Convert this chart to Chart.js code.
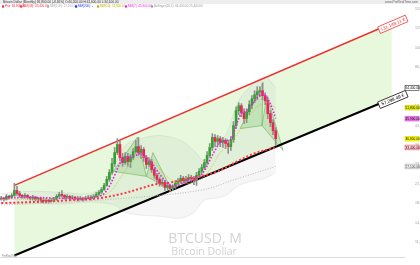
<!DOCTYPE html>
<html>
<head>
<meta charset="utf-8">
<script src="https://cdn.jsdelivr.net/npm/chart.js@4.4.1/dist/chart.umd.min.js"></script>
<style>
  html, body { margin: 0; padding: 0; background: #fff; }
</style>
</head>
<body>
<canvas id="btc" width="420" height="265"></canvas>
<script>
// monthly candles, month index 0 = Jan 2014
const firstMonth = -6;
const firstOpen = 18900;

const closes = [
  19100, 18900, 19500, 19300, 19700, 20800,
  20100, 19700, 19500, 19700, 19300, 19100, 19300, 18900, 19100, 18700,
  18500, 18700, 18500, 18700, 18900, 19500, 19900, 19700, 19300, 19500,
  19100, 19300, 19100, 18900, 19100, 18900, 19100, 19300, 19100, 19500,
  19900, 20400, 21000, 22000, 23500, 25400, 28000, 31600, 34500, 29900,
  28300, 30200, 28600, 29900, 31900, 33700, 31600, 32700, 29900, 27700,
  28600, 26200, 24600, 23500, 22500, 22700, 21500, 22000, 21300, 21800,
  22500, 23000, 23800, 23200, 23500, 24000, 23800, 23200, 24600, 25700,
  26800, 28300, 30600, 33400, 37300, 35700, 36800, 35300, 36100, 34900,
  33700, 36400, 42500, 50100, 52900, 49000, 45900, 49500, 53500, 57100,
  59700, 61700, 62400, 59100, 55900, 48500, 43900, 40200, 36800
];
const highs = [
  19500, 19300, 19900, 19700, 20100, 22500,
  21800, 20600, 19900, 20100, 19900, 19500, 19700, 19500, 19300, 19300,
  19100, 19100, 18900, 19100, 19300, 19900, 20400, 20800, 19900, 19900,
  19700, 19700, 19500, 19500, 19500, 19300, 19500, 19700, 19700, 19900,
  20400, 20800, 21500, 22500, 24300, 26200, 29600, 33400, 36800, 35700,
  31300, 31600, 31300, 30900, 33000, 36100, 37300, 34100, 33400, 30600,
  29900, 29300, 26800, 25100, 24000, 23500, 23200, 22500, 22200, 22200,
  23200, 23800, 24600, 24300, 24300, 24800, 24600, 24300, 25400, 26500,
  27700, 29300, 31900, 34900, 38900, 38500, 38100, 37700, 37300, 36800,
  36100, 37700, 44400, 52300, 54700, 54100, 51200, 51200, 55900, 59100,
  62400, 65200, 65200, 68100, 61000, 57800, 50100, 45400, 41600
];
const lows = [
  18700, 18500, 18700, 18900, 19100, 19500,
  19700, 19300, 19100, 19100, 18900, 18700, 18700, 18500, 18500, 18300,
  18100, 18100, 18100, 18300, 18500, 18700, 19300, 19300, 18900, 19100,
  18700, 18900, 18700, 18500, 18700, 18500, 18700, 18900, 18700, 18900,
  19300, 19700, 20100, 20800, 21800, 23000, 24800, 27100, 30900, 28900,
  27100, 27700, 27100, 26800, 29300, 31300, 30600, 29600, 28600, 26500,
  27100, 25400, 23800, 22500, 21800, 21800, 20800, 21000, 20600, 20800,
  21300, 22000, 22500, 22500, 22700, 23000, 23000, 22200, 22000, 24300,
  25100, 26200, 27700, 29900, 32300, 33700, 34100, 33700, 33400, 33000,
  31300, 32300, 35300, 41100, 47900, 46900, 43400, 43900, 47900, 51200,
  54700, 56500, 58400, 56500, 53500, 45900, 42000, 38500, 34100
];

const yearLabels = ['2014', '2015', '2016', '2017', '2018', '2019', '2020',
  '2021', '2022', '2023', '2024', '2025', '2026'];
const yTicks = [153300, 123800, 100000, 80750, 65200, 52630, 42520,
  34320, 27720, 22380, 18070, 14590, 11780];

// indicator lines: [month, value]
const maFast = [[-6, 19100], [5, 19300], [16, 19100], [27, 19100], [31, 19500], [33, 20100],
  [35, 21800], [37, 24600], [39, 28000], [41, 29900], [43, 30200], [45, 30600], [47, 31300],
  [49, 29900], [51, 28300], [53, 25900], [55, 24000], [57, 22500], [59, 21800], [61, 22000],
  [63, 22700], [65, 23200], [67, 23500], [69, 24000], [71, 25900], [73, 28900], [75, 32300],
  [77, 35300], [79, 36100], [81, 36400], [83, 42500], [85, 48500], [87, 50100], [89, 53500],
  [91, 57800], [93, 60300], [95, 57100], [97, 50100], [98, 45900]];
const maMid = [[-6, 18900], [10, 18900], [20, 19100], [30, 19300], [35, 20400], [38, 22700],
  [41, 25900], [44, 28900], [47, 30200], [50, 29600], [53, 27400], [56, 24800], [59, 23200],
  [62, 22500], [65, 22500], [68, 23200], [71, 24300], [74, 27400], [77, 31600], [80, 34100],
  [83, 38100], [86, 43900], [89, 49000], [92, 53500], [95, 54700], [98, 51800]];
const maSlow = [[-6, 18100], [10, 18400], [20, 18700], [31, 19100], [40, 20100], [47, 21300],
  [52, 22200], [58, 22700], [66, 23800], [75, 25400], [84, 28900], [90, 31300], [95, 32700],
  [98, 33400]];
const maLong = [[-6, 17700], [31, 18700], [69, 20800], [84, 23800], [98, 27100]];
const bollUpper = [[-6, 20100], [5, 20600], [16, 20400], [27, 20100], [33, 21800], [37, 27400],
  [41, 34100], [47, 36800], [54, 38100], [62, 36100], [67, 32300], [71, 28900], [75, 35300],
  [79, 38100], [84, 55900], [90, 68100], [94, 72700], [98, 64400]];
const bollLower = [[-6, 18100], [5, 18100], [16, 17900], [27, 18300], [33, 18100], [37, 17700],
  [41, 16380], [47, 15850], [54, 15680], [62, 15330], [67, 16380], [71, 18700], [75, 19100],
  [79, 19700], [84, 22000], [90, 23200], [94, 23800], [98, 25400]];

// trend channel
const channelTop = [[-1, 22000], [142, 131148.11]];
const channelBottom = [[-1, 10170], [142, 57298.49]];

// harmonic patterns X, A, B, C, D
const pattern1 = [[36.5, 25700], [45.5, 37300], [49, 24300], [51.5, 31600], [58.5, 21000]];
const pattern2 = [[84.5, 41100], [93.2, 68100], [92.8, 42500], [94.7, 59100], [100.8, 32300]];

const months = closes.map((_, i) => firstMonth + i);
const opens = closes.map((c, i) => (i === 0 ? firstOpen : closes[i - 1]));
const bodyColors = closes.map((c, i) => (c >= opens[i] ? '#2fa52f' : '#ec2452'));
const toXY = pts => pts.map(([x, y]) => ({ x, y }));
const last = arr => arr[arr.length - 1][1];
const fmt = v => v.toLocaleString('en-US', { minimumFractionDigits: 2, maximumFractionDigits: 2 });

const FONT = '"Liberation Sans", Arial, sans-serif';

function drawPattern(ctx, xs, ys, pts) {
  const p = pts.map(([m, v]) => [xs.getPixelForValue(m), ys.getPixelForValue(v)]);
  const tri = (a, b, c) => {
    ctx.beginPath();
    ctx.moveTo(a[0], a[1]);
    ctx.lineTo(b[0], b[1]);
    ctx.lineTo(c[0], c[1]);
    ctx.closePath();
    ctx.fill();
    ctx.stroke();
  };
  ctx.fillStyle = 'rgba(120,195,100,0.28)';
  ctx.strokeStyle = 'rgba(90,170,70,0.75)';
  ctx.lineWidth = 0.7;
  tri(p[0], p[1], p[2]);
  tri(p[2], p[3], p[4]);
}

function drawLineLabel(ctx, xs, ys, line, color, text) {
  const x0 = xs.getPixelForValue(line[0][0]), y0 = ys.getPixelForValue(line[0][1]);
  const x1 = xs.getPixelForValue(line[1][0]), y1 = ys.getPixelForValue(line[1][1]);
  const ang = Math.atan2(y1 - y0, x1 - x0);
  ctx.save();
  ctx.translate(x1 + 1, y1 + 1);
  ctx.rotate(ang);
  ctx.fillStyle = '#fff';
  ctx.strokeStyle = color;
  ctx.lineWidth = 0.7;
  ctx.fillRect(-15, -3.5, 30, 7);
  ctx.strokeRect(-15, -3.5, 30, 7);
  ctx.fillStyle = color;
  ctx.font = '4.6px ' + FONT;
  ctx.textAlign = 'center';
  ctx.textBaseline = 'middle';
  ctx.fillText(text, 0, 0.3);
  ctx.restore();
}

const overlay = {
  id: 'overlay',
  beforeDraw(chart) {
    const ctx = chart.ctx;
    ctx.save();
    ctx.fillStyle = '#d2d2d2';
    ctx.textAlign = 'center';
    ctx.font = '14px "Open Sans", sans-serif';
    ctx.fillText('BTCUSD, M', 205, 243);
    ctx.font = '10.5px "Open Sans", sans-serif';
    ctx.fillText('Bitcoin Dollar', 204, 255);
    ctx.restore();
  },
  beforeDatasetsDraw(chart) {
    const { ctx, chartArea: a } = chart;
    const xs = chart.scales.x, ys = chart.scales.y;
    ctx.save();
    ctx.beginPath();
    ctx.rect(a.left, a.top, a.right - a.left, a.bottom - a.top);
    ctx.clip();
    drawPattern(ctx, xs, ys, pattern1);
    drawPattern(ctx, xs, ys, pattern2);
    ctx.restore();
  },
  afterDraw(chart) {
    const ctx = chart.ctx;
    const xs = chart.scales.x, ys = chart.scales.y;
    const close = closes[closes.length - 1];
    const open = opens[opens.length - 1];

    drawLineLabel(ctx, xs, ys, channelTop, '#e83030', fmt(channelTop[1][1]) + ' €');
    drawLineLabel(ctx, xs, ys, channelBottom, '#000', fmt(channelBottom[1][1]) + ' €');

    // header
    ctx.save();
    ctx.fillStyle = '#ededed';
    ctx.fillRect(0, 0, 420, 4);
    ctx.textBaseline = 'middle';
    ctx.font = '3.2px ' + FONT;
    ctx.fillStyle = '#333';
    const pct = ((close - open) / open * 100).toFixed(2);
    ctx.fillText('Bitcoin Dollar (Monthly) ' + fmt(close) + ' (' + pct + '%) O:' + fmt(open) +
      ' H:' + fmt(highs[highs.length - 1]) + ' L:' + fmt(lows[lows.length - 1]), 3, 2.2);
    ctx.textAlign = 'right';
    ctx.fillStyle = '#666';
    ctx.fillText('www.ProRealTime.com', 418, 2.2);
    ctx.textAlign = 'left';

    const legend = [
      { x: 2, color: '#ec2452', text: 'Prix: ' + fmt(close) },
      { x: 20, color: '#ff3344', text: 'MM(48): ' + fmt(last(maSlow)) },
      { x: 47, color: '#aaaaaa', text: 'MM(100): ' + fmt(last(maLong)) },
      { x: 75, color: '#2233ff', text: 'MM(200): -' },
      { x: 97, color: '#b5b500', text: 'MM(20): ' + fmt(last(maMid)) },
      { x: 125, color: '#ee22ee', text: 'MM(7): ' + fmt(last(maFast)) },
      { x: 151, color: '#999999', text: 'Bollinger(20,2): ' + fmt(last(bollUpper)) + ' ' + fmt(last(bollLower)) }
    ];
    ctx.font = '3px ' + FONT;
    legend.forEach(it => {
      ctx.fillStyle = it.color;
      ctx.fillRect(it.x, 5.4, 2.2, 2.2);
      ctx.fillText(it.text, it.x + 3, 6.6);
    });

    // right axis value boxes
    const boxes = [
      { v: last(bollUpper), fill: '#fff', stroke: '#000', color: '#000' },
      { v: last(maMid), fill: '#f2f200', stroke: '#c0c000', color: '#000' },
      { v: last(maFast), fill: '#f07af0', stroke: '#d040d0', color: '#000' },
      { v: close, fill: '#ffff00', stroke: '#d0d000', color: '#000' },
      { v: last(maSlow), fill: '#ffd4dc', stroke: '#ee3344', color: '#000' },
      { v: last(maLong), fill: '#f0f0f0', stroke: '#999', color: '#444' }
    ];
    ctx.font = '3.2px ' + FONT;
    boxes.forEach(b => {
      const y = ys.getPixelForValue(b.v);
      ctx.fillStyle = b.fill;
      ctx.strokeStyle = b.stroke;
      ctx.lineWidth = 0.5;
      ctx.fillRect(405, y - 2.4, 14, 4.8);
      ctx.strokeRect(405, y - 2.4, 14, 4.8);
      ctx.fillStyle = b.color;
      ctx.fillText(fmt(b.v), 405.6, y + 0.2);
    });

    ctx.fillStyle = '#888';
    ctx.font = '2.6px ' + FONT;
    ctx.fillText('ProRealTime', 2, 256);
    ctx.restore();
  }
};

const dotted = (pts, color, width, dash, order) => ({
  type: 'line',
  data: toXY(pts),
  borderColor: color,
  borderWidth: width,
  borderDash: dash,
  pointRadius: 0,
  tension: 0.35,
  fill: false,
  order: order
});

new Chart(document.getElementById('btc'), {
  type: 'line',
  data: {
    datasets: [
      {
        data: toXY(channelTop), borderColor: '#ee3030', borderWidth: 1.5,
        pointRadius: 0, fill: false, order: 31
      },
      {
        data: toXY(channelBottom), borderColor: '#000', borderWidth: 2,
        pointRadius: 0, fill: '-1', backgroundColor: '#e7f8dd', order: 30
      },
      {
        data: toXY(bollUpper), borderColor: 'rgba(150,150,150,0.25)', borderWidth: 0.6,
        pointRadius: 0, tension: 0.35, fill: '+1', backgroundColor: 'rgba(150,150,150,0.09)', order: 25
      },
      {
        data: toXY(bollLower), borderColor: 'rgba(150,150,150,0.25)', borderWidth: 0.6,
        pointRadius: 0, tension: 0.35, fill: false, order: 24
      },
      {
        type: 'bar',
        data: months.map((m, i) => ({ x: m, y: [lows[i], highs[i]] })),
        backgroundColor: '#909090',
        barThickness: 1,
        grouped: false,
        order: 6
      },
      {
        type: 'bar',
        data: months.map((m, i) => ({ x: m, y: [opens[i], closes[i]] })),
        backgroundColor: bodyColors,
        barThickness: 2,
        minBarLength: 1,
        grouped: false,
        order: 5
      },
      dotted(maLong, '#b8b8b8', 1, [1, 1.6], 4),
      dotted(maSlow, '#ff3344', 2, [2, 2], 3),
      dotted(maMid, '#c8c048', 0.8, [1, 1], 2),
      dotted(maFast, '#e624e6', 1.6, [1.6, 1.6], 1)
    ]
  },
  options: {
    responsive: false,
    animation: false,
    devicePixelRatio: 1,
    layout: { padding: { top: 4, left: 0, right: 0, bottom: 0 } },
    plugins: {
      legend: { display: false },
      tooltip: { enabled: false },
      filler: { drawTime: 'beforeDatasetsDraw' }
    },
    scales: {
      x: {
        type: 'linear',
        min: -6.44,
        max: 146.6,
        offset: false,
        bounds: 'data',
        grid: { display: false },
        border: { display: true, color: '#dddddd' },
        afterBuildTicks: scale => {
          scale.ticks = yearLabels.map((_, i) => ({ value: i * 12 }));
        },
        afterFit: scale => { scale.height = 8; },
        ticks: {
          autoSkip: false,
          maxRotation: 0,
          padding: 2,
          color: '#9a9a9a',
          font: { size: 3.5, family: FONT },
          callback: (v, i) => yearLabels[i]
        }
      },
      y: {
        type: 'logarithmic',
        position: 'right',
        min: 10000,
        max: 160200,
        bounds: 'data',
        grid: { display: false },
        border: { display: false },
        afterBuildTicks: scale => {
          scale.ticks = yTicks.map(v => ({ value: v }));
        },
        afterFit: scale => { scale.width = 16; },
        ticks: {
          autoSkip: false,
          padding: 3,
          color: '#9a9a9a',
          font: { size: 3.5, family: FONT },
          callback: v => Number(v).toLocaleString('en-US')
        }
      }
    }
  },
  plugins: [overlay]
});
</script>
</body>
</html>
